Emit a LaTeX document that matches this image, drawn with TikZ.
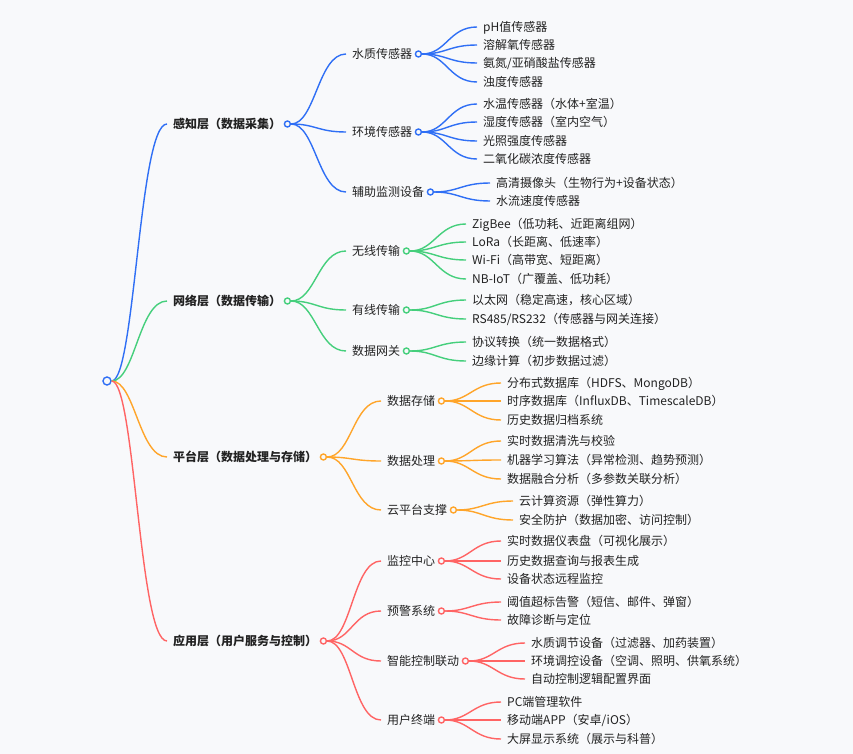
\documentclass[tikz,border=0pt]{standalone}
\usepackage{fontspec}
\setmainfont{Noto Sans CJK SC}
\definecolor{bg}{HTML}{F8F9FB}
\definecolor{txt}{HTML}{222222}
\definecolor{bl}{HTML}{2F6FF5}
\definecolor{gr}{HTML}{45CF7C}
\definecolor{og}{HTML}{FFA52A}
\definecolor{rd}{HTML}{FF6464}
\begin{document}
\begin{tikzpicture}[x=1pt,y=-1pt,
    lbl/.style={anchor=west,inner xsep=6pt,inner ysep=0pt,text height=11pt,text depth=2pt,text=txt,font=\fontsize{12}{14}\selectfont},
    head/.style={lbl,font=\fontsize{12}{14}\selectfont\bfseries},
    knob/.style={circle,draw,line width=1.4pt,fill=bg,inner sep=0pt,minimum size=6pt},
    lnk/.style={line width=1.4pt}]
       \fill[bg] (0,0) rectangle (853,754);

       \node(R)[knob,draw=bl,minimum size=8pt] at (107,381) {};

       % perception layer
       \node(NA)[head] at (167,124) {感知层（数据采集）};
       \node(A)[knob,draw=bl] at (NA.east) {};
       \node(NA1)[lbl] at (346,54) {水质传感器};
       \node(A1)[knob,draw=bl] at (NA1.east) {};
       \node(NA2)[lbl] at (346,132) {环境传感器};
       \node(A2)[knob,draw=bl] at (NA2.east) {};
       \node(NA3)[lbl] at (346,192) {辅助监测设备};
       \node(A3)[knob,draw=bl] at (NA3.east) {};
       \node(NA11)[lbl] at (477,27) {pH值传感器};
       \node(NA12)[lbl] at (477,45) {溶解氧传感器};
       \node(NA13)[lbl] at (477,63) {氨氮/亚硝酸盐传感器};
       \node(NA14)[lbl] at (477,82) {浊度传感器};
       \node(NA21)[lbl] at (477,104) {水温传感器（水体+室温）};
       \node(NA22)[lbl] at (477,122) {湿度传感器（室内空气）};
       \node(NA23)[lbl] at (477,141) {光照强度传感器};
       \node(NA24)[lbl] at (477,159) {二氧化碳浓度传感器};
       \node(NA31)[lbl] at (490,183) {高清摄像头（生物行为+设备状态）};
       \node(NA32)[lbl] at (490,201) {水流速度传感器};

       \draw[lnk,bl] (R) .. controls +(28,0) and +(-28,0) .. (NA.west);
       \draw[lnk,bl] (A) .. controls +(28,0) and +(-28,0) .. (NA1.west);
       \draw[lnk,bl] (A) .. controls +(28,0) and +(-28,0) .. (NA2.west);
       \draw[lnk,bl] (A) .. controls +(28,0) and +(-28,0) .. (NA3.west);
       \draw[lnk,bl] (A1) .. controls +(28,0) and +(-28,0) .. (NA11.west);
       \draw[lnk,bl] (A1) .. controls +(28,0) and +(-28,0) .. (NA12.west);
       \draw[lnk,bl] (A1) .. controls +(28,0) and +(-28,0) .. (NA13.west);
       \draw[lnk,bl] (A1) .. controls +(28,0) and +(-28,0) .. (NA14.west);
       \draw[lnk,bl] (A2) .. controls +(28,0) and +(-28,0) .. (NA21.west);
       \draw[lnk,bl] (A2) .. controls +(28,0) and +(-28,0) .. (NA22.west);
       \draw[lnk,bl] (A2) .. controls +(28,0) and +(-28,0) .. (NA23.west);
       \draw[lnk,bl] (A2) .. controls +(28,0) and +(-28,0) .. (NA24.west);
       \draw[lnk,bl] (A3) .. controls +(28,0) and +(-28,0) .. (NA31.west);
       \draw[lnk,bl] (A3) .. controls +(28,0) and +(-28,0) .. (NA32.west);

       % network layer
       \node(NB)[head] at (167,301) {网络层（数据传输）};
       \node(B)[knob,draw=gr] at (NB.east) {};
       \node(NB1)[lbl] at (346,251) {无线传输};
       \node(B1)[knob,draw=gr] at (NB1.east) {};
       \node(NB2)[lbl] at (346,310) {有线传输};
       \node(B2)[knob,draw=gr] at (NB2.east) {};
       \node(NB3)[lbl] at (346,351) {数据网关};
       \node(B3)[knob,draw=gr] at (NB3.east) {};
       \node(NB11)[lbl] at (466,224) {ZigBee（低功耗、近距离组网）};
       \node(NB12)[lbl] at (466,242) {LoRa（长距离、低速率）};
       \node(NB13)[lbl] at (466,260) {Wi-Fi（高带宽、短距离）};
       \node(NB14)[lbl] at (466,279) {NB-IoT（广覆盖、低功耗）};
       \node(NB21)[lbl] at (466,300) {以太网（稳定高速，核心区域）};
       \node(NB22)[lbl] at (466,319) {RS485/RS232（传感器与网关连接）};
       \node(NB31)[lbl] at (466,342) {协议转换（统一数据格式）};
       \node(NB32)[lbl] at (466,361) {边缘计算（初步数据过滤）};

       \draw[lnk,gr] (R) .. controls +(28,0) and +(-28,0) .. (NB.west);
       \draw[lnk,gr] (B) .. controls +(28,0) and +(-28,0) .. (NB1.west);
       \draw[lnk,gr] (B) .. controls +(28,0) and +(-28,0) .. (NB2.west);
       \draw[lnk,gr] (B) .. controls +(28,0) and +(-28,0) .. (NB3.west);
       \draw[lnk,gr] (B1) .. controls +(28,0) and +(-28,0) .. (NB11.west);
       \draw[lnk,gr] (B1) .. controls +(28,0) and +(-28,0) .. (NB12.west);
       \draw[lnk,gr] (B1) .. controls +(28,0) and +(-28,0) .. (NB13.west);
       \draw[lnk,gr] (B1) .. controls +(28,0) and +(-28,0) .. (NB14.west);
       \draw[lnk,gr] (B2) .. controls +(28,0) and +(-28,0) .. (NB21.west);
       \draw[lnk,gr] (B2) .. controls +(28,0) and +(-28,0) .. (NB22.west);
       \draw[lnk,gr] (B3) .. controls +(28,0) and +(-28,0) .. (NB31.west);
       \draw[lnk,gr] (B3) .. controls +(28,0) and +(-28,0) .. (NB32.west);

       % platform layer
       \node(NC)[head] at (167,457) {平台层（数据处理与存储）};
       \node(C)[knob,draw=og] at (NC.east) {};
       \node(NC1)[lbl] at (381,401) {数据存储};
       \node(C1)[knob,draw=og] at (NC1.east) {};
       \node(NC2)[lbl] at (381,461) {数据处理};
       \node(C2)[knob,draw=og] at (NC2.east) {};
       \node(NC3)[lbl] at (381,510) {云平台支撑};
       \node(C3)[knob,draw=og] at (NC3.east) {};
       \node(NC11)[lbl] at (501,383) {分布式数据库（HDFS、MongoDB）};
       \node(NC12)[lbl] at (501,401) {时序数据库（InfluxDB、TimescaleDB）};
       \node(NC13)[lbl] at (501,420) {历史数据归档系统};
       \node(NC21)[lbl] at (501,441) {实时数据清洗与校验};
       \node(NC22)[lbl] at (501,460) {机器学习算法（异常检测、趋势预测）};
       \node(NC23)[lbl] at (501,479) {数据融合分析（多参数关联分析）};
       \node(NC31)[lbl] at (513,501) {云计算资源（弹性算力）};
       \node(NC32)[lbl] at (513,520) {安全防护（数据加密、访问控制）};

       \draw[lnk,og] (R) .. controls +(28,0) and +(-28,0) .. (NC.west);
       \draw[lnk,og] (C) .. controls +(28,0) and +(-28,0) .. (NC1.west);
       \draw[lnk,og] (C) .. controls +(28,0) and +(-28,0) .. (NC2.west);
       \draw[lnk,og] (C) .. controls +(28,0) and +(-28,0) .. (NC3.west);
       \draw[lnk,og] (C1) .. controls +(28,0) and +(-28,0) .. (NC11.west);
       \draw[lnk,og] (C1) .. controls +(28,0) and +(-28,0) .. (NC12.west);
       \draw[lnk,og] (C1) .. controls +(28,0) and +(-28,0) .. (NC13.west);
       \draw[lnk,og] (C2) .. controls +(28,0) and +(-28,0) .. (NC21.west);
       \draw[lnk,og] (C2) .. controls +(28,0) and +(-28,0) .. (NC22.west);
       \draw[lnk,og] (C2) .. controls +(28,0) and +(-28,0) .. (NC23.west);
       \draw[lnk,og] (C3) .. controls +(28,0) and +(-28,0) .. (NC31.west);
       \draw[lnk,og] (C3) .. controls +(28,0) and +(-28,0) .. (NC32.west);

       % application layer
       \node(ND)[head] at (167,641) {应用层（用户服务与控制）};
       \node(D)[knob,draw=rd] at (ND.east) {};
       \node(ND1)[lbl] at (381,561) {监控中心};
       \node(D1)[knob,draw=rd] at (ND1.east) {};
       \node(ND2)[lbl] at (381,611) {预警系统};
       \node(D2)[knob,draw=rd] at (ND2.east) {};
       \node(ND3)[lbl] at (381,661) {智能控制联动};
       \node(D3)[knob,draw=rd] at (ND3.east) {};
       \node(ND4)[lbl] at (381,720) {用户终端};
       \node(D4)[knob,draw=rd] at (ND4.east) {};
       \node(ND11)[lbl] at (501,541) {实时数据仪表盘（可视化展示）};
       \node(ND12)[lbl] at (501,561) {历史数据查询与报表生成};
       \node(ND13)[lbl] at (501,579) {设备状态远程监控};
       \node(ND21)[lbl] at (501,602) {阈值超标告警（短信、邮件、弹窗）};
       \node(ND22)[lbl] at (501,620) {故障诊断与定位};
       \node(ND31)[lbl] at (525,643) {水质调节设备（过滤器、加药装置）};
       \node(ND32)[lbl] at (525,661) {环境调控设备（空调、照明、供氧系统）};
       \node(ND33)[lbl] at (525,679) {自动控制逻辑配置界面};
       \node(ND41)[lbl] at (501,702) {PC端管理软件};
       \node(ND42)[lbl] at (501,720) {移动端APP（安卓/iOS）};
       \node(ND43)[lbl] at (501,739) {大屏显示系统（展示与科普）};

       \draw[lnk,rd] (R) .. controls +(28,0) and +(-28,0) .. (ND.west);
       \draw[lnk,rd] (D) .. controls +(28,0) and +(-28,0) .. (ND1.west);
       \draw[lnk,rd] (D) .. controls +(28,0) and +(-28,0) .. (ND2.west);
       \draw[lnk,rd] (D) .. controls +(28,0) and +(-28,0) .. (ND3.west);
       \draw[lnk,rd] (D) .. controls +(28,0) and +(-28,0) .. (ND4.west);
       \draw[lnk,rd] (D1) .. controls +(28,0) and +(-28,0) .. (ND11.west);
       \draw[lnk,rd] (D1) .. controls +(28,0) and +(-28,0) .. (ND12.west);
       \draw[lnk,rd] (D1) .. controls +(28,0) and +(-28,0) .. (ND13.west);
       \draw[lnk,rd] (D2) .. controls +(28,0) and +(-28,0) .. (ND21.west);
       \draw[lnk,rd] (D2) .. controls +(28,0) and +(-28,0) .. (ND22.west);
       \draw[lnk,rd] (D3) .. controls +(28,0) and +(-28,0) .. (ND31.west);
       \draw[lnk,rd] (D3) .. controls +(28,0) and +(-28,0) .. (ND32.west);
       \draw[lnk,rd] (D3) .. controls +(28,0) and +(-28,0) .. (ND33.west);
       \draw[lnk,rd] (D4) .. controls +(28,0) and +(-28,0) .. (ND41.west);
       \draw[lnk,rd] (D4) .. controls +(28,0) and +(-28,0) .. (ND42.west);
       \draw[lnk,rd] (D4) .. controls +(28,0) and +(-28,0) .. (ND43.west);
      \end{tikzpicture}
\end{document}
